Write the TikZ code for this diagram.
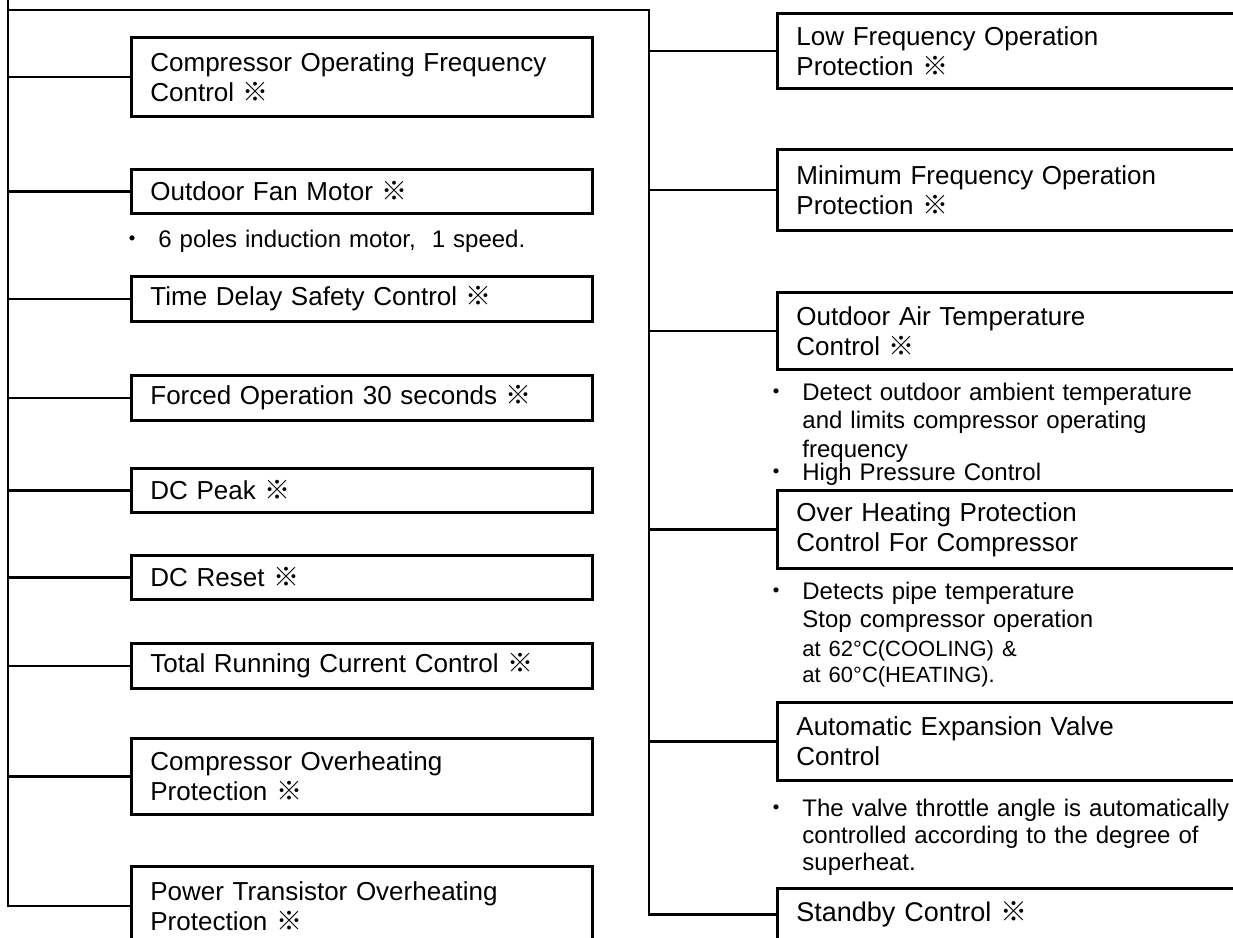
\documentclass[tikz,border=0pt]{standalone}
\usepackage{fontspec}
\setmainfont{Liberation Sans}
\newfontfamily\cjk{Noto Sans CJK JP}
\newcommand\kome{{\cjk ※}}
\newcommand\bul{\leavevmode\llap{{\cjk ・}\hspace{14pt}}}
\setlength\parindent{0pt}

\begin{document}
\begin{tikzpicture}[x=1pt, y=-1pt, line width=2.8pt,
    box/.style={draw, anchor=north west, align=left, inner xsep=19pt, inner ysep=2pt,
      font=\fontsize{26}{30}\selectfont},
    lbox/.style={box, minimum width=461pt, text width=423pt},
    rbox/.style={box, minimum width=470pt, text width=432pt},
    note/.style={anchor=north west, align=left, inner sep=0pt, text width=430pt}]
  \useasboundingbox (0,0) rectangle (1233,937);
  \clip (0,0) rectangle (1233,937);

  \node[lbox, minimum height=79pt] (comp) at (130,36) {Compressor Operating Frequency\\Control \kome};
  \node[lbox, minimum height=44pt] (fan) at (130,168) {Outdoor Fan Motor \kome};
  \node[note, font=\fontsize{24}{28}\selectfont] (fannote) at (157,226) {\strut\bul 6 poles induction motor,\ \ 1 speed.};
  \node[lbox, minimum height=45pt] (delay) at (130,275) {Time Delay Safety Control \kome};
  \node[lbox, minimum height=45pt] (forced) at (130,374) {Forced Operation 30 seconds \kome};
  \node[lbox, minimum height=44pt] (peak) at (130,467) {DC Peak \kome};
  \node[lbox, minimum height=44pt] (reset) at (130,554) {DC Reset \kome};
  \node[lbox, minimum height=45pt] (total) at (130,642) {Total Running Current Control \kome};
  \node[lbox, minimum height=76pt] (ovhcomp) at (130,737) {Compressor Overheating\\Protection \kome};
  \node[lbox, minimum height=79pt] (ptr) at (130,865) {Power Transistor Overheating\\Protection \kome};

  \node[rbox, minimum height=75pt] (lowfreq) at (776,12) {Low Frequency Operation\\Protection \kome};
  \node[rbox, minimum height=81pt] (minfreq) at (776,148) {Minimum Frequency Operation\\Protection \kome};
  \node[rbox, minimum height=77pt] (oat) at (776,291) {Outdoor Air Temperature\\Control \kome};
  \node[note, font=\fontsize{24}{28.5}\selectfont] (oatnote) at (801,379)
    {\strut\bul Detect outdoor ambient temperature\\and limits compressor operating\\frequency\\[-5pt]\bul High Pressure Control};
  \node[rbox, minimum height=78pt] (ovhprot) at (776,489) {Over Heating Protection\\Control For Compressor};
  \node[note, font=\fontsize{24}{28.5}\selectfont] (ovhnote) at (801,578)
    {\strut\bul Detects pipe temperature\\Stop compressor operation\\{\fontsize{22}{26}\selectfont at 62°C(COOLING) \&}\\[-2.5pt]{\fontsize{22}{26}\selectfont at 60°C(HEATING).}};
  \node[rbox, minimum height=78pt] (aev) at (776,701) {Automatic Expansion Valve\\Control};
  \node[note, font=\fontsize{24}{27}\selectfont] (aevnote) at (801,796)
    {\strut\bul The valve throttle angle is automatically\\controlled according to the degree of\\superheat.};
  \node[rbox, minimum height=52pt, font=\fontsize{27}{30}\selectfont] (standby) at (776,887) {Standby Control \kome};

  \coordinate (ltop) at (8,0);
  \coordinate (rtop) at (649,10);
  \draw (ltop) |- (ptr.west);
  \draw (ltop |- rtop) -- (rtop) |- (standby.west);
  \draw (comp.west) -- (comp.west -| ltop);
  \draw (fan.west) -- (fan.west -| ltop);
  \draw (delay.west) -- (delay.west -| ltop);
  \draw (forced.west) -- (forced.west -| ltop);
  \draw (peak.west) -- (peak.west -| ltop);
  \draw (reset.west) -- (reset.west -| ltop);
  \draw (total.west) -- (total.west -| ltop);
  \draw (ovhcomp.west) -- (ovhcomp.west -| ltop);
  \draw (lowfreq.west) -- (lowfreq.west -| rtop);
  \draw (minfreq.west) -- (minfreq.west -| rtop);
  \draw (oat.west) -- (oat.west -| rtop);
  \draw (ovhprot.west) -- (ovhprot.west -| rtop);
  \draw (aev.west) -- (aev.west -| rtop);
\end{tikzpicture}
\end{document}
